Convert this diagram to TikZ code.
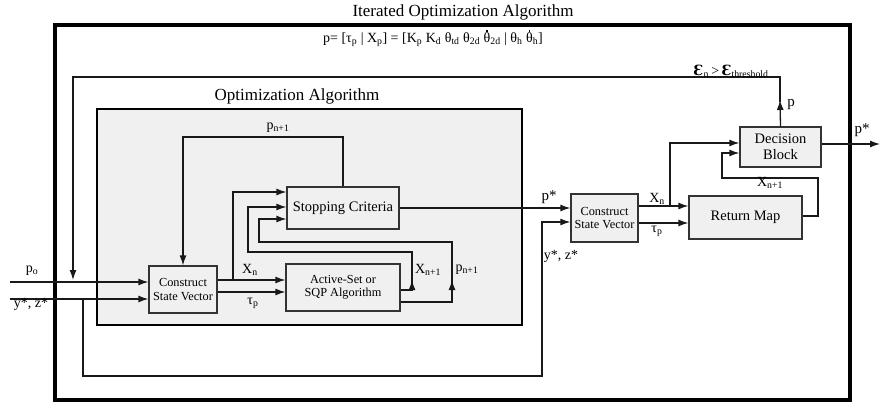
\documentclass[tikz,border=0pt]{standalone}
\usepackage{fontspec}
\setmainfont{Liberation Serif}
\newfontfamily\dvs{DejaVu Serif}
\usetikzlibrary{arrows.meta}
\definecolor{boxfill}{HTML}{F0F0F0}
\definecolor{boxline}{HTML}{333333}
\newcommand\thdot{\ooalign{θ\cr\hidewidth\raisebox{0.78em}{\rule{0.1em}{0.1em}}\hidewidth\cr}}
\tikzset{
  blk/.style={draw=boxline, line width=1.2pt, fill=boxfill, align=center, inner sep=1pt},
  smallblk/.style={blk, font=\fontsize{12.3}{13.5}\selectfont},
  bigblk/.style={blk, font=\fontsize{14.5}{16.5}\selectfont},
  conn/.style={line width=1.3pt, draw=black!90},
  arr/.style={conn, -{Latex[length=10pt,width=7pt]}},
  lbl/.style={font=\fontsize{14}{16}\selectfont, inner sep=0pt},
  ttl/.style={font=\fontsize{17}{19}\selectfont, inner sep=0pt},
}
\begin{document}
\begin{tikzpicture}[x=1pt,y=-1pt]
\useasboundingbox (0,0) rectangle (882,403);
% outer and inner frames
\draw[line width=4.5pt] (55,25) rectangle (850,400);
\draw[line width=2.8pt, fill=boxfill] (97,109) rectangle (522,325);
% titles
\node[ttl] (t1) at (463,12) {Iterated Optimization Algorithm};
\node[ttl] (t2) at (297,96) {Optimization Algorithm};
\node[lbl, font=\fontsize{14}{16}\selectfont] (frm) at (433,40) {p= [τ\textsubscript{p} | X\textsubscript{p}] = [K\textsubscript{p} K\textsubscript{d} θ\textsubscript{td} θ\textsubscript{2d} \thdot\textsubscript{2d} | θ\textsubscript{h} \thdot\textsubscript{h}]};
% blocks
\node[smallblk, minimum width=68pt, minimum height=47pt] (csv1) at (183,289.5) {Construct\\State Vector};
\node[smallblk, minimum width=114pt, minimum height=47pt] (asq) at (343,287.5) {Active-Set or\\SQP Algorithm};
\node[bigblk, minimum width=112pt, minimum height=42pt] (sc) at (343,208) {Stopping Criteria};
\node[smallblk, minimum width=67pt, minimum height=48pt] (csv2) at (604.5,218) {Construct\\State Vector};
\node[bigblk, minimum width=113pt, minimum height=43pt] (rm) at (745.5,217.5) {Return Map};
\node[bigblk, minimum width=81pt, minimum height=40pt] (dec) at (780.5,147) {Decision\\Block};
% coordinates
\coordinate (p0in) at (10,282);
\coordinate (yzin) at (10,299);
\coordinate (pout) at (880,144);
% inputs
\draw[arr] (p0in) -- (p0in -| csv1.west);
\draw[arr] (yzin) -- (yzin -| csv1.west);
% csv1 -> asq
\draw[arr] (csv1.east |- 0,280) -- (asq.west |- 0,280);
\draw[arr] (csv1.east |- 0,292) -- (asq.west |- 0,292);
% branch to stopping criteria
\draw[arr] (233,280) -- (233,192) -- (sc.west |- 0,192);
% X_{n+1} loop
\draw[arr] (asq.east |- 0,290) -- (412,290) -- (412,280);
\draw[arr] (412,283) -- (412,252) -- (248,252) -- (248,207) -- (sc.west |- 0,207);
% p_{n+1} loop
\draw[arr] (asq.east |- 0,302) -- (452,302) -- (452,280);
\draw[arr] (452,283) -- (452,242) -- (259,242) -- (259,219) -- (sc.west |- 0,219);
% top feedback p_{n+1}
\draw[arr] (sc.north) -- (343,137) -- (183,137) -- (csv1.north);
% stopping criteria -> csv2
\draw[arr] (sc.east) -- (sc.east -| csv2.west);
% y*,z* branch
\draw[arr] (83,299) -- (83,376) -- (542,376) -- (542,222) -- (csv2.west |- 0,222);
% csv2 -> return map
\draw[arr] (csv2.east |- 0,206) -- (rm.west |- 0,206);
\draw[arr] (csv2.east |- 0,223) -- (rm.west |- 0,223);
% Xn branch to decision
\draw[arr] (670,206) -- (670,143) -- (dec.west |- 0,143);
% return map -> decision
\draw[arr] (rm.east |- 0,216) -- (818,216) -- (818,178) -- (722,178) -- (722,153) -- (dec.west |- 0,153);
% decision output
\draw[arr] (dec.east |- pout) -- (pout);
% outer feedback
\draw[arr] (dec.north) -- (780,100);
\draw[conn] (780,102) -- (780,77) -- (73,77) -- (73,270);
\draw[arr] (73,268) -- (73,280);
% labels
\node[lbl] (lp0) at (32,271) {p\textsubscript{o}};
\node[lbl] (lyz1) at (31,304) {y*, z*};
\node[lbl] (lxn1) at (250,270) {X\textsubscript{n}};
\node[lbl] (ltp1) at (253,303) {τ\textsubscript{p}};
\node[lbl] (lpn1) at (278,128) {p\textsubscript{n+1}};
\node[lbl] (lxn2) at (428,270) {X\textsubscript{n+1}};
\node[lbl] (lpn2) at (467,270) {p\textsubscript{n+1}};
\node[lbl, font=\fontsize{15}{17}\selectfont] (lps1) at (549,197) {p*};
\node[lbl] (lyz2) at (561,256) {y*, z*};
\node[lbl] (lxn3) at (657,199) {X\textsubscript{n}};
\node[lbl] (ltp3) at (657,231) {τ\textsubscript{p}};
\node[lbl] (lxn4) at (770,183) {X\textsubscript{n+1}};
\node[lbl, font=\fontsize{15}{17}\selectfont] (lp) at (791,105) {p};
\node[lbl, font=\fontsize{15}{17}\selectfont] (lps2) at (862,130) {p*};
\node[lbl] (leps) at (731,71) {{\dvs\bfseries\fontsize{14}{16}\selectfont Ɛ}\textsubscript{n}\,>\,{\dvs\bfseries\fontsize{14}{16}\selectfont Ɛ}\textsubscript{threshold}};
\end{tikzpicture}
\end{document}
